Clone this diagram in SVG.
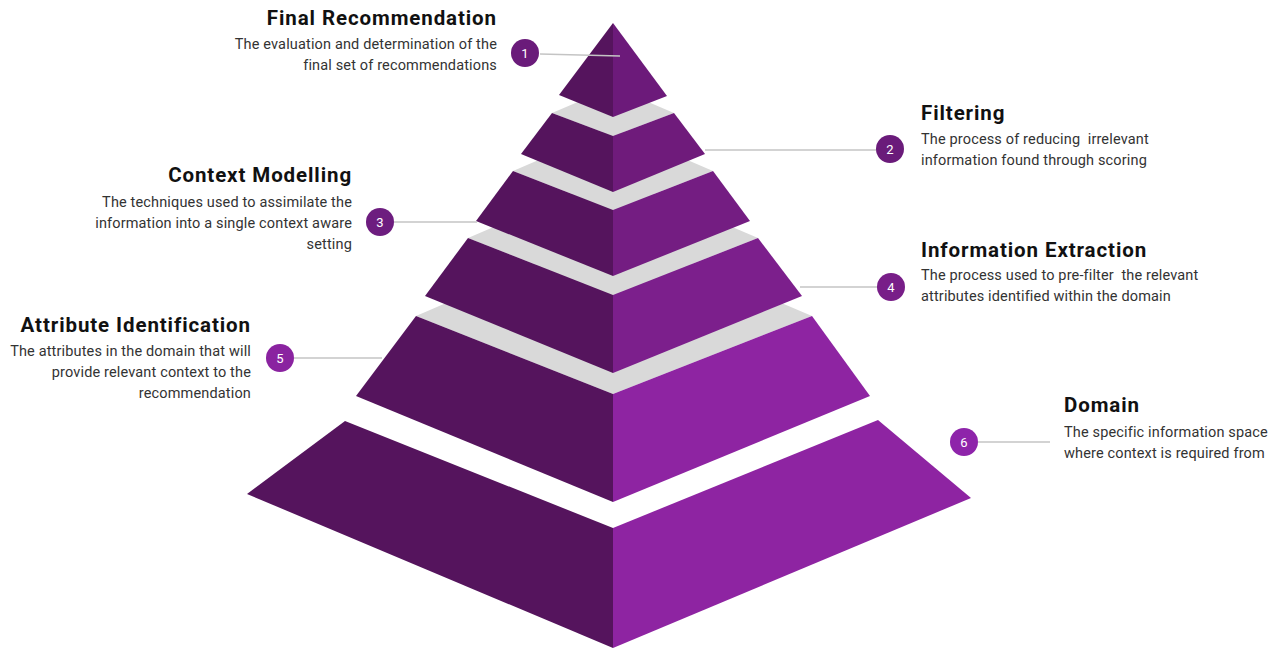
<svg xmlns="http://www.w3.org/2000/svg" width="1278" height="660" viewBox="0 0 1278 660">
<style>
.l{fill:#55145d}
.g{fill:#d9d9d9}
.t{font-family:Roboto,"Liberation Sans",sans-serif;font-weight:700;font-size:20.5px;letter-spacing:0.9px;fill:#111}
.d{font-family:Roboto,"Liberation Sans",sans-serif;font-size:14.5px;letter-spacing:0.15px;fill:#333;white-space:pre}
.n{font-family:Roboto,"Liberation Sans",sans-serif;font-size:13px;fill:#fff;text-anchor:middle}
.c{stroke:#c4c4c4;stroke-width:1.5;fill:none}
.e{text-anchor:end}
</style>
<rect width="1278" height="660" fill="#fff"/>
<g id="pyramid">
<g id="tier-6">
<polygon class="l" points="345,421 613,528 613,648 247,494"/>
<polygon fill="#8e24a2" points="878,420 613,528 613,648 971,498"/>
</g>
<g id="tier-5">
<polygon class="g" points="416,316 613,231 812,316 613,394"/>
<polygon class="l" points="416,316 613,394 613,502 356,396"/>
<polygon fill="#8e24a2" points="812,316 613,394 613,502 870,396"/>
</g>
<g id="tier-4">
<polygon class="g" points="468,238 613,176 758,238 613,295"/>
<polygon class="l" points="468,238 613,295 613,373 425,296"/>
<polygon fill="#7c1f8c" points="758,238 613,295 613,373 802,296"/>
</g>
<g id="tier-3">
<polygon class="g" points="513,171 613,128 713,171 613,210"/>
<polygon class="l" points="513,171 613,210 613,276 476,221"/>
<polygon fill="#741d82" points="713,171 613,210 613,276 750,221"/>
</g>
<g id="tier-2">
<polygon class="g" points="552,113 613,87 674,113 613,136"/>
<polygon class="l" points="552,113 613,136 613,192 521,154"/>
<polygon fill="#6f1b7b" points="674,113 613,136 613,192 705,154"/>
</g>
<g id="tier-1">
<polygon class="l" points="613,23 613,117 559,95"/>
<polygon fill="#6c1a7a" points="613,23 613,117 667,96"/>
</g>
</g>
<g id="connectors">
<line class="c" x1="540" y1="54" x2="620" y2="56"/>
<line class="c" x1="705" y1="150" x2="876" y2="150"/>
<line class="c" x1="394" y1="222" x2="477" y2="222"/>
<line class="c" x1="800" y1="287" x2="878" y2="287"/>
<line class="c" x1="294" y1="358" x2="382" y2="358"/>
<line class="c" x1="978" y1="442" x2="1050" y2="442"/>
</g>
<g id="label-1">
<circle cx="525" cy="53" r="14" fill="#6a1b7a"/>
<text class="n" x="525" y="58">1</text>
<text class="t e" x="497" y="25">Final Recommendation</text>
<text class="d e" x="497" y="49">The evaluation and determination of the</text>
<text class="d e" x="497" y="70">final set of recommendations</text>
</g>
<g id="label-2">
<circle cx="890" cy="149" r="14" fill="#6a1b7a"/>
<text class="n" x="890" y="154">2</text>
<text class="t" x="921" y="120">Filtering</text>
<text class="d" x="921" y="144">The process of reducing  irrelevant</text>
<text class="d" x="921" y="165">information found through scoring</text>
</g>
<g id="label-3">
<circle cx="380" cy="222" r="14" fill="#6d1d7f"/>
<text class="n" x="380" y="227">3</text>
<text class="t e" x="352" y="182">Context Modelling</text>
<text class="d e" x="352" y="207">The techniques used to assimilate the</text>
<text class="d e" x="352" y="228">information into a single context aware</text>
<text class="d e" x="352" y="249">setting</text>
</g>
<g id="label-4">
<circle cx="891" cy="287" r="14" fill="#781e88"/>
<text class="n" x="891" y="292">4</text>
<text class="t" x="921" y="257">Information Extraction</text>
<text class="d" x="921" y="280">The process used to pre-filter  the relevant</text>
<text class="d" x="921" y="301">attributes identified within the domain</text>
</g>
<g id="label-5">
<circle cx="280" cy="358" r="14" fill="#8a23a0"/>
<text class="n" x="280" y="363">5</text>
<text class="t e" x="251" y="332">Attribute Identification</text>
<text class="d e" x="251" y="356">The attributes in the domain that will</text>
<text class="d e" x="251" y="377">provide relevant context to the</text>
<text class="d e" x="251" y="398">recommendation</text>
</g>
<g id="label-6">
<circle cx="964" cy="442" r="14" fill="#8e24aa"/>
<text class="n" x="964" y="447">6</text>
<text class="t" x="1064" y="412">Domain</text>
<text class="d" x="1064" y="437">The specific information space</text>
<text class="d" x="1064" y="458">where context is required from</text>
</g>
</svg>
